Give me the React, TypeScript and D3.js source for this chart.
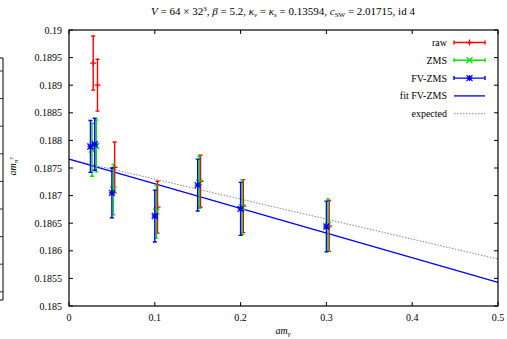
import React from "react";
import * as d3 from "d3";

// masses (am_gamma) where each set was measured
const xBase = [0.025, 0.03, 0.05, 0.1, 0.15, 0.2, 0.3];

const rawY = [0.1894, 0.189, 0.18751, 0.18679, 0.18726, 0.18681, 0.18645];
const rawErr = [0.00049, 0.00047, 0.00046, 0.00047, 0.00047, 0.00048, 0.00046];

const zmsY = [0.18783, 0.1879, 0.18711, 0.18671, 0.18724, 0.18679, 0.18647];
const zmsErr = [0.00048, 0.00047, 0.00046, 0.00048, 0.00047, 0.00049, 0.00047];

const fvY = [0.18789, 0.18793, 0.18705, 0.18663, 0.18719, 0.18676, 0.18644];
const fvErr = [0.00047, 0.00047, 0.00045, 0.00047, 0.00047, 0.00048, 0.00046];

// straight lines: [intercept, slope]
const fitLine = [0.18766, -0.00446];
const expectedLine = [0.18766, -0.00362];

const xTicks = [0, 0.1, 0.2, 0.3, 0.4, 0.5];
const yTicks = [0.185, 0.1855, 0.186, 0.1865, 0.187, 0.1875, 0.188, 0.1885, 0.189, 0.1895, 0.19];

const W = 507;
const H = 339;
const m = { left: 69, right: 498, top: 30, bottom: 306 };
const font = "'Liberation Serif', 'DejaVu Serif', serif";

const x = d3.scaleLinear().domain([0, 0.5]).range([m.left, m.right]);
const y = d3.scaleLinear().domain([0.185, 0.19]).range([m.bottom, m.top]);

// small horizontal shift of each set so the bars don't sit on top of each other
const series = [
  { name: "raw", color: "#ff0000", ys: rawY, errs: rawErr, dx: 0.0032, marker: "plus" },
  { name: "ZMS", color: "#00e000", ys: zmsY, errs: zmsErr, dx: 0.0018, marker: "cross" },
  { name: "FV-ZMS", color: "#0000ff", ys: fvY, errs: fvErr, dx: 0, marker: "star" },
];

function Marker({ type, cx, cy, color }) {
  const s = 3;
  const plus = `M${cx - s},${cy}H${cx + s}M${cx},${cy - s}V${cy + s}`;
  const cross = `M${cx - s},${cy - s}L${cx + s},${cy + s}M${cx - s},${cy + s}L${cx + s},${cy - s}`;
  const d = type === "plus" ? plus : type === "cross" ? cross : plus + cross;
  return <path d={d} stroke={color} strokeWidth={1.3} fill="none" />;
}

function ErrorBar({ px, v, e, color, marker }) {
  const y0 = y(v - e);
  const y1 = y(v + e);
  const c = 2;
  return (
    <g>
      <path
        d={`M${px},${y0}V${y1}M${px - c},${y0}H${px + c}M${px - c},${y1}H${px + c}`}
        stroke={color}
        strokeWidth={1.4}
        fill="none"
      />
      <Marker type={marker} cx={px} cy={y(v)} color={color} />
    </g>
  );
}

export default function App() {
  const lineAt = (l, xv) => l[0] + l[1] * xv;
  const legendRows = [
    { label: "raw", color: "#ff0000", kind: "bar", marker: "plus" },
    { label: "ZMS", color: "#00e000", kind: "bar", marker: "cross" },
    { label: "FV-ZMS", color: "#0000ff", kind: "bar", marker: "star" },
    { label: "fit FV-ZMS", color: "#0000ff", kind: "line" },
    { label: "expected", color: "#888888", kind: "dot" },
  ];
  const fragTicks = d3.range(71, 300, 27.6);

  return (
    <svg width={W} height={H} style={{ position: "absolute", left: 0, top: 0 }} fontFamily={font}>
      <rect width={W} height={H} fill="#fff" />

      {/* leftover frame edge of a neighbouring plot */}
      <path d="M0,58H3V300H0" stroke="#000" strokeWidth={1} fill="none" />
      {fragTicks.map((t, i) => (
        <line key={i} x1={0} x2={3} y1={t} y2={t} stroke="#000" strokeWidth={0.8} />
      ))}

      <text x={283} y={15} textAnchor="middle" fontSize={11}>
        <tspan fontStyle="italic">V</tspan> = 64 × 32<tspan fontSize={7} dy={-4}>3</tspan>
        <tspan dy={4}>, </tspan>
        <tspan fontStyle="italic">β</tspan> = 5.2, <tspan fontStyle="italic">κ</tspan>
        <tspan fontStyle="italic" fontSize={7} dy={2}>v</tspan>
        <tspan dy={-2}> = </tspan>
        <tspan fontStyle="italic">κ</tspan>
        <tspan fontStyle="italic" fontSize={7} dy={2}>s</tspan>
        <tspan dy={-2}> = 0.13594, </tspan>
        <tspan fontStyle="italic">c</tspan>
        <tspan fontSize={7} dy={2}>SW</tspan>
        <tspan dy={-2}> = 2.01715, id 4</tspan>
      </text>

      {/* ticks */}
      {xTicks.map((t) => (
        <g key={t}>
          <line x1={x(t)} x2={x(t)} y1={m.bottom} y2={m.bottom - 4} stroke="#000" />
          <line x1={x(t)} x2={x(t)} y1={m.top} y2={m.top + 4} stroke="#000" />
          <text x={x(t)} y={321} textAnchor="middle" fontSize={10}>
            {t}
          </text>
        </g>
      ))}
      {yTicks.map((t) => (
        <g key={t}>
          <line x1={m.left} x2={m.left + 4} y1={y(t)} y2={y(t)} stroke="#000" />
          <line x1={m.right} x2={m.right - 4} y1={y(t)} y2={y(t)} stroke="#000" />
          <text x={62} y={y(t) + 3.5} textAnchor="end" fontSize={10}>
            {t}
          </text>
        </g>
      ))}

      <text x={283} y={334} textAnchor="middle" fontSize={10} fontStyle="italic">
        am<tspan fontSize={7} dy={2}>γ</tspan>
      </text>
      <text transform={`translate(16,166) rotate(-90)`} textAnchor="middle" fontSize={10} fontStyle="italic">
        am<tspan fontSize={7} dy={2}>π</tspan>
        <tspan fontSize={6} dy={-5}>±</tspan>
      </text>

      {/* lines */}
      <line
        x1={x(0)}
        x2={x(0.5)}
        y1={y(lineAt(expectedLine, 0))}
        y2={y(lineAt(expectedLine, 0.5))}
        stroke="#888"
        strokeWidth={1}
        strokeDasharray="1.5,1.5"
      />
      <line
        x1={x(0)}
        x2={x(0.5)}
        y1={y(lineAt(fitLine, 0))}
        y2={y(lineAt(fitLine, 0.5))}
        stroke="#0000ff"
        strokeWidth={1.3}
      />

      {series.map((s) =>
        xBase.map((xv, i) => (
          <ErrorBar key={s.name + i} px={x(xv + s.dx)} v={s.ys[i]} e={s.errs[i]} color={s.color} marker={s.marker} />
        ))
      )}

      {/* legend */}
      {legendRows.map((r, i) => {
        const ly = 42.5 + i * 17.8;
        return (
          <g key={r.label}>
            <text x={447} y={ly + 3.5} textAnchor="end" fontSize={10}>
              {r.label}
            </text>
            {r.kind === "bar" && (
              <g>
                <path
                  d={`M454,${ly}H485M454,${ly - 2}V${ly + 2}M485,${ly - 2}V${ly + 2}`}
                  stroke={r.color}
                  strokeWidth={1.4}
                  fill="none"
                />
                <Marker type={r.marker} cx={469.5} cy={ly} color={r.color} />
              </g>
            )}
            {r.kind === "line" && <line x1={454} x2={485} y1={ly} y2={ly} stroke={r.color} strokeWidth={1.3} />}
            {r.kind === "dot" && (
              <line x1={454} x2={485} y1={ly} y2={ly} stroke={r.color} strokeWidth={1} strokeDasharray="1.5,1.5" />
            )}
          </g>
        );
      })}

      <rect x={m.left} y={m.top} width={m.right - m.left} height={m.bottom - m.top} fill="none" stroke="#000" strokeWidth={1.2} />
    </svg>
  );
}
